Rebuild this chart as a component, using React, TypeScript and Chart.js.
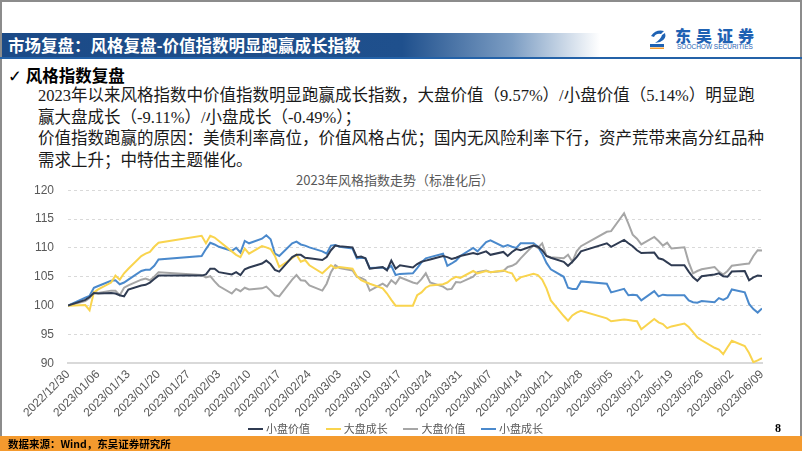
import React, { useEffect, useRef } from "react";
import { Chart, registerables } from "chart.js";

Chart.register(...registerables);

// Trading days (x positions follow calendar time)
const tradingDates = [
  "2022/12/30",
  "2023/01/03", "2023/01/04", "2023/01/05", "2023/01/06",
  "2023/01/09", "2023/01/10", "2023/01/11", "2023/01/12", "2023/01/13",
  "2023/01/16", "2023/01/17", "2023/01/18", "2023/01/19", "2023/01/20",
  "2023/01/30", "2023/01/31", "2023/02/01", "2023/02/02", "2023/02/03",
  "2023/02/06", "2023/02/07", "2023/02/08", "2023/02/09", "2023/02/10",
  "2023/02/13", "2023/02/14", "2023/02/15", "2023/02/16", "2023/02/17",
  "2023/02/20", "2023/02/21", "2023/02/22", "2023/02/23", "2023/02/24",
  "2023/02/27", "2023/02/28", "2023/03/01", "2023/03/02", "2023/03/03",
  "2023/03/06", "2023/03/07", "2023/03/08", "2023/03/09", "2023/03/10",
  "2023/03/13", "2023/03/14", "2023/03/15", "2023/03/16", "2023/03/17",
  "2023/03/20", "2023/03/21", "2023/03/22", "2023/03/23", "2023/03/24",
  "2023/03/27", "2023/03/28", "2023/03/29", "2023/03/30", "2023/03/31",
  "2023/04/03", "2023/04/04", "2023/04/06", "2023/04/07",
  "2023/04/10", "2023/04/11", "2023/04/12", "2023/04/13", "2023/04/14",
  "2023/04/17", "2023/04/18", "2023/04/19", "2023/04/20", "2023/04/21",
  "2023/04/24", "2023/04/25", "2023/04/26", "2023/04/27", "2023/04/28",
  "2023/05/04", "2023/05/05",
  "2023/05/08", "2023/05/09", "2023/05/10", "2023/05/11", "2023/05/12",
  "2023/05/15", "2023/05/16", "2023/05/17", "2023/05/18", "2023/05/19",
  "2023/05/22", "2023/05/23", "2023/05/24", "2023/05/25", "2023/05/26",
  "2023/05/29", "2023/05/30", "2023/05/31", "2023/06/01", "2023/06/02",
  "2023/06/05", "2023/06/06", "2023/06/07", "2023/06/08", "2023/06/09",
];

// 小盘价值
const smallValue = [
  100,
  101.0, 101.5, 102.2, 102.1,
  102.2, 102.1, 101.8, 101.6, 102.8,
  103.5, 103.6, 104.0, 104.6, 105.2,
  105.2, 105.4, 106.4, 106.4, 105.8,
  105.4, 105.8, 105.3, 106.3, 106.6,
  107.3, 107.8, 107.2, 106.2, 105.9,
  108.4, 108.8, 108.8, 108.3, 108.2,
  107.9, 108.4, 109.6, 110.4, 110.3,
  110.1, 108.4, 108.5, 108.2, 106.4,
  106.7, 106.1, 107.8, 106.4, 107.0,
  106.6, 107.2, 107.6, 107.8, 108.0,
  108.6, 108.4, 108.1, 108.3, 108.6,
  109.1, 108.9, 109.4, 108.8,
  109.3, 108.6, 109.3, 109.8, 109.6,
  110.4, 110.2, 109.6, 108.6, 108.3,
  107.6, 106.9, 107.6, 108.4, 109.4,
  110.8, 110.2,
  111.4, 110.8, 110.3, 109.6, 109.1,
  109.2, 108.2, 108.0, 107.5, 107.0,
  107.0, 105.9, 104.9, 104.3, 105.1,
  105.4, 105.6, 105.1, 105.0, 105.9,
  106.0, 104.4, 104.9, 105.2, 105.14,
];

// 大盘成长
const largeGrowth = [
  100,
  100.1, 99.2, 102.3, 102.8,
  104.0, 105.2, 104.5, 105.6, 106.4,
  108.6, 109.0, 109.3, 110.2, 110.9,
  112.1, 110.8, 112.1, 111.8, 111.2,
  109.4, 108.8, 108.4, 109.9, 109.0,
  110.3, 110.1, 109.8, 108.6, 106.7,
  108.2, 108.8, 107.6, 107.9, 107.0,
  105.6, 106.3, 107.0, 106.5, 106.7,
  106.4, 105.1, 104.4, 104.1, 103.8,
  103.0, 102.1, 101.0, 100.0, 100.0,
  100.0, 101.8, 102.3, 103.1, 103.5,
  103.7, 104.0, 104.6, 105.0, 104.8,
  106.0, 105.6, 106.0, 105.8,
  106.1, 105.8, 105.6, 104.3, 104.9,
  105.5, 105.3, 104.5, 103.0, 100.9,
  98.2, 97.4, 98.3, 98.8, 99.1,
  97.8, 97.3,
  97.6, 97.5, 97.4, 97.3, 95.9,
  97.7, 97.1, 96.8, 96.1, 96.4,
  96.9, 96.3, 95.4, 94.5, 94.0,
  92.7, 92.4, 91.6, 92.8, 93.9,
  93.0, 91.8, 90.2, 90.5, 90.89,
];

// 大盘价值
const largeValue = [
  100,
  100.8, 101.3, 102.4, 102.2,
  102.6, 102.6, 101.8, 103.1, 103.5,
  104.5, 104.7, 104.4, 105.0, 105.8,
  105.3, 104.9, 105.1, 104.2, 103.4,
  102.1, 102.9, 102.5, 103.1, 102.8,
  103.0, 103.3, 102.6, 101.8, 101.6,
  104.5, 105.3, 104.4, 104.3, 103.5,
  102.6, 103.8, 105.8, 107.0, 106.5,
  106.1, 105.0, 104.8, 104.4, 102.6,
  103.8, 103.3, 104.4, 103.8, 104.9,
  104.0, 103.8, 104.6, 105.6, 104.0,
  103.3, 102.8, 102.9, 104.1, 104.0,
  105.0, 105.8, 106.1, 105.8,
  106.0, 106.7, 106.9, 107.3, 108.2,
  110.5, 110.0, 110.8, 108.6, 108.4,
  108.2, 108.8, 107.6, 109.4, 110.3,
  112.8, 112.9,
  116.0, 114.2, 112.3, 111.6, 110.6,
  111.9, 111.2, 110.4, 110.9, 109.9,
  110.1, 107.5, 105.6, 106.0, 106.3,
  106.7, 105.9, 105.4, 106.0, 106.9,
  107.2, 107.3, 108.6, 109.6, 109.57,
];

// 小盘成长
const smallGrowth = [
  100,
  101.4, 101.7, 103.1, 103.4,
  104.3, 104.4, 103.7, 104.0, 104.5,
  106.0, 106.2, 106.2, 106.9, 108.0,
  108.6, 109.8, 110.9, 110.6, 110.2,
  109.5, 110.0, 109.2, 111.2, 110.8,
  111.6, 112.2, 111.5, 109.0, 108.6,
  110.8, 111.1, 110.6, 110.4, 110.1,
  109.4, 109.0, 110.4, 110.5, 110.2,
  109.9, 108.2, 108.3, 108.2, 106.5,
  106.6, 106.3, 106.9, 105.3, 105.5,
  105.6, 106.5, 107.5, 108.2, 108.4,
  109.0, 106.9, 107.3, 107.8, 108.6,
  110.0, 109.4, 111.0, 111.3,
  110.2, 110.5, 110.2, 110.0, 110.8,
  110.8, 110.2, 109.0, 107.4, 106.3,
  105.0, 103.1, 102.9, 102.9, 104.2,
  103.8, 102.3,
  102.9, 101.8, 101.9, 101.8, 100.9,
  102.5, 101.6, 101.9, 101.8, 101.8,
  101.8, 100.9, 100.6, 100.5, 100.8,
  100.6, 101.3, 101.0, 101.4, 102.8,
  102.3, 100.3, 99.4, 98.8, 99.51,
];

// Weekly tick labels on the x axis
const tickLabels = [
  "2022/12/30", "2023/01/06", "2023/01/13", "2023/01/20", "2023/01/27",
  "2023/02/03", "2023/02/10", "2023/02/17", "2023/02/24", "2023/03/03",
  "2023/03/10", "2023/03/17", "2023/03/24", "2023/03/31", "2023/04/07",
  "2023/04/14", "2023/04/21", "2023/04/28", "2023/05/05", "2023/05/12",
  "2023/05/19", "2023/05/26", "2023/06/02", "2023/06/09",
];

const seriesNames = ["小盘价值", "大盘成长", "大盘价值", "小盘成长"];
const seriesColors = ["#2F3B52", "#F9D44E", "#A6A6A6", "#4A89CC"];

const dayMs = 86400000;
function toDay(s: string): number {
  const [y, m, d] = s.split("/").map(Number);
  const [y0, m0, d0] = tradingDates[0].split("/").map(Number);
  return Math.round((Date.UTC(y, m - 1, d) - Date.UTC(y0, m0 - 1, d0)) / dayMs);
}

export default function App() {
  const ref = useRef<HTMLCanvasElement | null>(null);

  useEffect(() => {
    if (!ref.current) return;
    const allSeries = [smallValue, largeGrowth, largeValue, smallGrowth];
    const lastDay = toDay(tickLabels[tickLabels.length - 1]);
    const chart = new Chart(ref.current, {
      type: "line",
      data: {
        datasets: allSeries.map((vals, i) => ({
          label: seriesNames[i],
          data: vals.map((v, j) => ({ x: toDay(tradingDates[j]), y: v })),
          borderColor: seriesColors[i],
          backgroundColor: seriesColors[i],
          borderWidth: 2,
          pointRadius: 0,
          tension: 0,
          fill: false,
        })),
      },
      options: {
        animation: false,
        responsive: false,
        maintainAspectRatio: false,
        layout: { padding: { left: 20, right: 28, top: 0, bottom: 0 } },
        plugins: {
          tooltip: { enabled: false },
          title: { display: false },
          legend: { display: false },
        },
        scales: {
          x: {
            type: "linear",
            min: 0,
            max: lastDay,
            grid: { display: true, drawOnChartArea: false, drawTicks: false },
            border: { display: true, color: "#D9D9D9", width: 2 },
            ticks: {
              stepSize: 7,
              autoSkip: false,
              maxRotation: 45,
              minRotation: 45,
              padding: 4,
              color: "#595959",
              font: { family: "'Liberation Sans', Arial, sans-serif", size: 12 },
              callback: (v: any) => {
                const idx = Math.round(Number(v) / 7);
                return tickLabels[idx] ?? "";
              },
            },
          },
          y: {
            min: 90,
            max: 120,
            grid: { color: "#D9D9D9", lineWidth: 1, drawTicks: false },
            border: { display: false, dash: [3, 3] },
            ticks: {
              stepSize: 5,
              padding: 14,
              color: "#595959",
              font: { family: "'Liberation Sans', Arial, sans-serif", size: 12 },
            },
          },
        },
      },
    });
    return () => chart.destroy();
  }, []);

  const bodyFont = "'Liberation Serif', 'Noto Sans CJK SC', serif";

  return (
    <div
      style={{
        position: "fixed",
        left: 0,
        top: 0,
        width: 802,
        height: 451,
        overflow: "hidden",
        background: "#ffffff",
        fontFamily: bodyFont,
      }}
    >
      {/* slide frame */}
      <div
        style={{
          position: "absolute",
          left: 0,
          top: 0,
          width: 802,
          height: 451,
          boxSizing: "border-box",
          borderLeft: "2px solid #8c8c8c",
          borderTop: "2px solid #8c8c8c",
          borderRight: "2px solid #8c8c8c",
        }}
      />
      {/* title bar */}
      <div
        style={{
          position: "absolute",
          left: 2,
          top: 33,
          width: 600,
          height: 24,
          background:
            "linear-gradient(to right, #1B4A87 0px, #1F508D 400px, #7C9DC3 510px, #ffffff 598px)",
        }}
      />
      <div
        style={{
          position: "absolute",
          left: 0,
          top: 57,
          width: 802,
          height: 2,
          background: "#2462A8",
        }}
      />
      <div
        style={{
          position: "absolute",
          left: 8,
          top: 33,
          height: 24,
          lineHeight: "24px",
          color: "#ffffff",
          fontFamily: "'Noto Sans CJK SC', sans-serif",
          fontWeight: 700,
          fontSize: 16.5,
          whiteSpace: "nowrap",
        }}
      >
        市场复盘：风格复盘-价值指数明显跑赢成长指数
      </div>
      {/* logo */}
      <svg
        style={{ position: "absolute", left: 648, top: 28 }}
        width="22"
        height="22"
        viewBox="0 0 22 22"
      >
        <path d="M3 8 Q8 1 16 3 L13 6 Q8 5 6 9 Z" fill="#1F62B3" />
        <path d="M17 5 Q19 11 12 14 L7 15 Q13 11 14 7 Z" fill="#1F62B3" />
        <rect x="2" y="16" width="14" height="3" fill="#1F62B3" />
        <rect x="2" y="19.5" width="14" height="1.5" fill="#F39A2B" />
      </svg>
      <div
        style={{
          position: "absolute",
          left: 675,
          top: 27,
          height: 17,
          lineHeight: "17px",
          color: "#1F62B3",
          fontFamily: "'Noto Sans CJK SC', sans-serif",
          fontWeight: 900,
          fontSize: 16,
          letterSpacing: 5,
          whiteSpace: "nowrap",
        }}
      >
        东吴证券
      </div>
      <div
        style={{
          position: "absolute",
          left: 677,
          top: 43,
          height: 7,
          lineHeight: "7px",
          color: "#1F62B3",
          fontFamily: "'Liberation Sans', Arial, sans-serif",
          fontSize: 6.5,
          whiteSpace: "nowrap",
        }}
      >
        SOOCHOW SECURITIES
      </div>
      {/* heading */}
      <div
        style={{
          position: "absolute",
          left: 8,
          top: 64,
          height: 22,
          lineHeight: "22px",
          fontSize: 16.5,
          fontWeight: 700,
          color: "#000",
          whiteSpace: "nowrap",
          fontFamily: "'Noto Sans CJK SC', sans-serif",
        }}
      >
        <span style={{ fontFamily: "'DejaVu Sans', sans-serif", fontWeight: 400, marginRight: 4 }}>✓</span>
        风格指数复盘
      </div>
      {/* paragraph lines */}
      {[
        "2023年以来风格指数中价值指数明显跑赢成长指数，大盘价值（9.57%）/小盘价值（5.14%）明显跑",
        "赢大盘成长（-9.11%）/小盘成长（-0.49%）；",
        "价值指数跑赢的原因：美债利率高位，价值风格占优；国内无风险利率下行，资产荒带来高分红品种",
        "需求上升；中特估主题催化。",
      ].map((line, i) => (
        <div
          key={i}
          style={{
            position: "absolute",
            left: 38,
            top: 85 + i * 21.5,
            height: 22,
            lineHeight: "22px",
            fontSize: 16.5,
            color: "#1a1a1a",
            whiteSpace: "nowrap",
          }}
        >
          {line}
        </div>
      ))}
      {/* chart title */}
      <div
        style={{
          position: "absolute",
          left: 0,
          width: 790,
          top: 172,
          height: 16,
          lineHeight: "16px",
          textAlign: "center",
          fontSize: 13,
          color: "#595959",
          fontFamily: "'Noto Sans CJK SC', sans-serif",
          whiteSpace: "nowrap",
        }}
      >
        2023年风格指数走势（标准化后）
      </div>
      <canvas
        ref={ref}
        width={790}
        height={255}
        style={{ position: "absolute", left: 0, top: 169, width: 790, height: 255 }}
      />
      {/* legend */}
      {seriesNames.map((name, i) => (
        <div
          key={name}
          style={{
            position: "absolute",
            left: 248 + i * 77.7,
            top: 421,
            height: 14,
            lineHeight: "14px",
            whiteSpace: "nowrap",
            fontFamily: "'Noto Sans CJK SC', sans-serif",
            fontSize: 11,
            color: "#595959",
          }}
        >
          <span
            style={{
              display: "inline-block",
              width: 15,
              height: 2.5,
              background: seriesColors[i],
              verticalAlign: "middle",
              marginRight: 3,
              marginTop: -2,
            }}
          />
          {name}
        </div>
      ))}
      {/* page number */}
      <div
        style={{
          position: "absolute",
          left: 775,
          top: 421,
          height: 14,
          lineHeight: "14px",
          fontSize: 12,
          fontWeight: 700,
          color: "#000",
        }}
      >
        8
      </div>
      {/* footer band */}
      <div
        style={{
          position: "absolute",
          left: 0,
          top: 436,
          width: 802,
          height: 15,
          background: "#F49A2E",
        }}
      />
      <div
        style={{
          position: "absolute",
          left: 8,
          top: 436,
          height: 15,
          lineHeight: "15px",
          fontSize: 10.5,
          fontWeight: 700,
          color: "#000",
          whiteSpace: "nowrap",
          fontFamily: "'Noto Sans CJK SC', sans-serif",
        }}
      >
        数据来源：Wind，东吴证券研究所
      </div>
    </div>
  );
}
